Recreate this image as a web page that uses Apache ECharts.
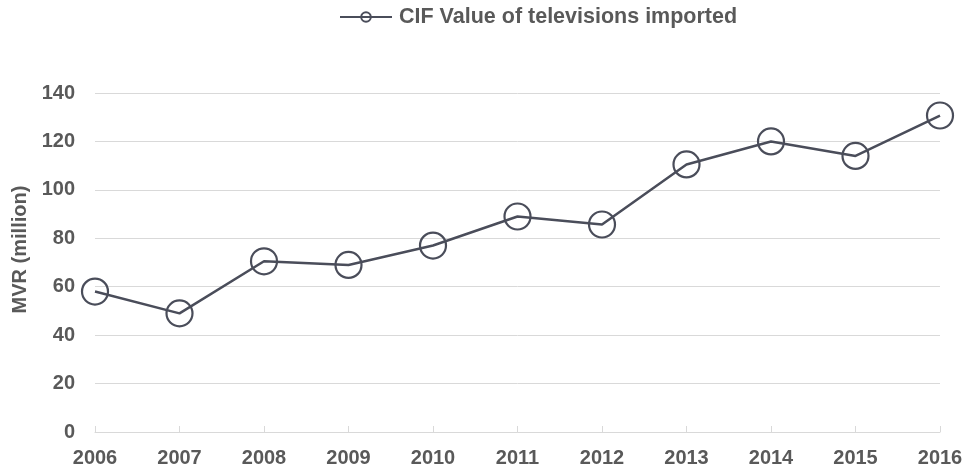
<!DOCTYPE html>
<html>
<head>
<meta charset="utf-8">
<script src="https://cdn.jsdelivr.net/npm/echarts@6/dist/echarts.min.js"></script>
<style>
  html, body { margin: 0; padding: 0; background: #fff; }
  #main { width: 967px; height: 472px; }
</style>
</head>
<body>
<div id="main"></div>
<script>
// data
var years = ['2006', '2007', '2008', '2009', '2010', '2011', '2012', '2013', '2014', '2015', '2016'];
var cifValue = [58, 49, 70.5, 69, 77, 89, 85.7, 110.5, 120, 114, 130.7];

var chart = echarts.init(document.getElementById('main'));
var textColor = '#595959';
var lineColor = '#4a4d5a';

var option = {
  animation: false,
  textStyle: { fontFamily: 'Liberation Sans, Arial, sans-serif' },
  legend: {
    top: 1,
    left: 334,
    itemWidth: 52,
    itemHeight: 12,
    itemGap: 0,
    textStyle: { color: textColor, fontSize: 21.5, fontWeight: 'bold', padding: [0, 0, 0, 2] },
    data: ['CIF Value of televisions imported']
  },
  grid: { left: 95, right: 27, top: 93, bottom: 40, outerBoundsMode: 'none', containLabel: false },
  xAxis: {
    type: 'category',
    data: years,
    boundaryGap: false,
    axisLine: { lineStyle: { color: '#d9d9d9' } },
    axisTick: { show: true, inside: true, length: 6, lineStyle: { color: '#d9d9d9' } },
    axisLabel: { color: textColor, fontSize: 20, fontWeight: 'bold', margin: 16 }
  },
  yAxis: {
    type: 'value',
    min: 0,
    max: 140,
    interval: 20,
    name: 'MVR (million)',
    nameLocation: 'middle',
    nameRotate: 90,
    nameGap: 63,
    nameTextStyle: { color: textColor, fontSize: 20, fontWeight: 'bold', padding: [0, 0, 0, 26] },
    axisLine: { show: false },
    axisTick: { show: false },
    axisLabel: { color: textColor, fontSize: 20, fontWeight: 'bold', margin: 20 },
    splitLine: { lineStyle: { color: '#d9d9d9' } }
  },
  series: [{
    name: 'CIF Value of televisions imported',
    type: 'line',
    data: cifValue,
    symbol: 'circle',
    symbolSize: 26,
    showAllSymbol: true,
    lineStyle: { color: lineColor, width: 2.5 },
    itemStyle: { color: 'rgba(0,0,0,0)', borderColor: lineColor, borderWidth: 2.2 }
  }]
};
chart.setOption(option);
</script>
</body>
</html>
